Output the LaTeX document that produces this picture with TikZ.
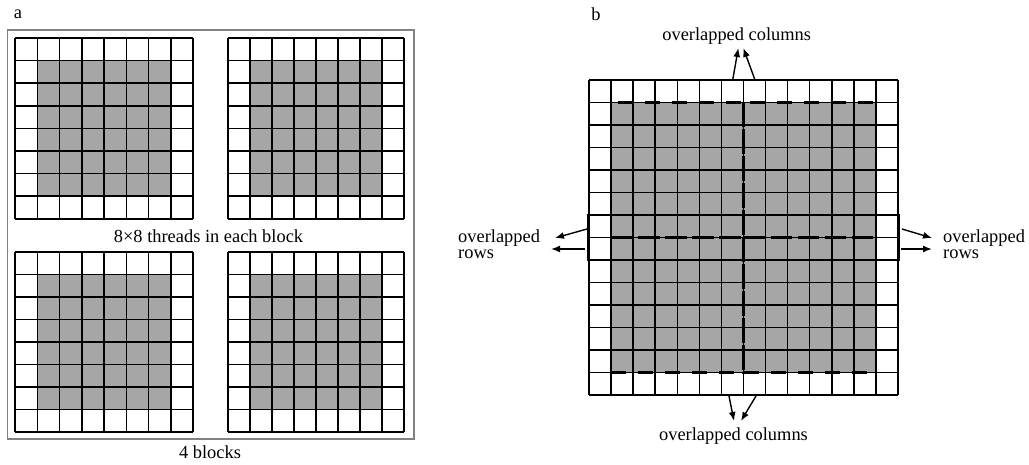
\documentclass[tikz,border=0pt]{standalone}
\usepackage{fontspec}
\setmainfont{Liberation Serif}
\usetikzlibrary{arrows.meta}
\definecolor{cellgray}{RGB}{166,166,166}
\definecolor{framegray}{RGB}{130,130,130}
\tikzset{
  gridline/.style={line width=1.5pt, draw=black},
  framebox/.style={draw=framegray, line width=1.2pt},
  lbl/.style={font=\fontsize{18.4}{17}\selectfont, inner sep=0pt},
  arr/.style={line width=1.4pt, -{Latex[length=9pt,width=7pt]}},
  blockdash/.style={line width=2.1pt, dash pattern=on 15pt off 12pt},
}
% #1 x0, #2 y0, #3 cells per side, #4 cell width, #5 cell height
\newcommand\cellgrid[5]{%
  \fill[cellgray] ({#1+#4},{#2+#5}) rectangle ({#1+(#3-1)*#4},{#2+(#3-1)*#5});
  \foreach \k in {0,...,#3}{
    \draw[gridline] ({#1+\k*#4},#2) -- ({#1+\k*#4},{#2+#3*#5});
    \draw[gridline] (#1,{#2+\k*#5}) -- ({#1+#3*#4},{#2+\k*#5});
  }}
\begin{document}
\begin{tikzpicture}[x=1pt,y=-1pt]
\useasboundingbox (0,0) rectangle (1029,465);
% ---------- panel a ----------
\node[lbl] (la) at (18,14) {a};
\draw[framebox] (7.5,30) rectangle (414,439);
\cellgrid{15}{38}{8}{22.25}{22.6}
\cellgrid{228}{38}{8}{22}{22.6}
\cellgrid{15}{252}{8}{22.25}{22.5}
\cellgrid{228}{252}{8}{22}{22.5}
\node[lbl, anchor=base] (tpb) at (208.5,243) {8×8 threads in each block};
\node[lbl, anchor=base] (fb) at (210,458) {4 blocks};
% ---------- panel b ----------
\node[lbl] (lb) at (596,14) {b};
\fill[cellgray] (611.07,102.5) rectangle (875.93,372.5);
\foreach \k in {0,...,14}{
  \draw[gridline] ({589+\k*22.07},80) -- ({589+\k*22.07},395);
  \draw[gridline] (589,{80+\k*22.5}) -- (898,{80+\k*22.5});
}
\draw[gridline] (588,215) rectangle (611.07,260);
\draw[gridline] (875.93,215) rectangle (899,260);
\draw[blockdash] (611.07,102.5) rectangle (743.5,237.5);
\draw[blockdash] (743.5,102.5) rectangle (875.93,237.5);
\draw[blockdash] (611.07,237.5) rectangle (743.5,372.5);
\draw[blockdash] (743.5,237.5) rectangle (875.93,372.5);
% labels
\node[lbl, anchor=base] (oct) at (736.7,41) {overlapped columns};
\node[lbl, anchor=base] (ocb) at (733.5,440) {overlapped columns};
\node[lbl, anchor=base west, align=left] (orl) at (458,259) {overlapped\\rows};
\node[lbl, anchor=base west, align=left] (orr) at (943,259) {overlapped\\rows};
% arrow coordinates
\coordinate (t1s) at (732.7,80);  \coordinate (t1e) at (738.3,48);
\coordinate (t2s) at (755,80);    \coordinate (t2e) at (743.3,48);
\coordinate (b1s) at (729,396);   \coordinate (b1e) at (734,421);
\coordinate (b2s) at (756,396);   \coordinate (b2e) at (741,421);
\coordinate (l1s) at (587,229);   \coordinate (l1e) at (555,238);
\coordinate (l2s) at (585,249);   \coordinate (l2e) at (551,249);
\coordinate (r1s) at (902,229);   \coordinate (r1e) at (932,238);
\coordinate (r2s) at (901,249);   \coordinate (r2e) at (932,249);
\draw[arr] (t1s) -- (t1e);
\draw[arr] (t2s) -- (t2e);
\draw[arr] (b1s) -- (b1e);
\draw[arr] (b2s) -- (b2e);
\draw[arr] (l1s) -- (l1e);
\draw[arr] (l2s) -- (l2e);
\draw[arr] (r1s) -- (r1e);
\draw[arr] (r2s) -- (r2e);
\end{tikzpicture}
\end{document}
